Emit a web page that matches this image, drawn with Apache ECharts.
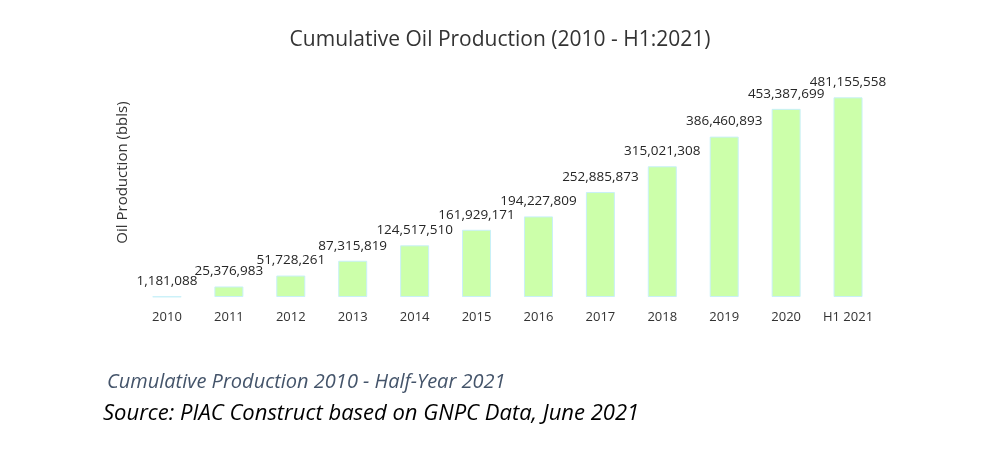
<!DOCTYPE html>
<html>
<head>
<meta charset="utf-8">
<script src="https://cdn.jsdelivr.net/npm/echarts@6/dist/echarts.min.js"></script>
<style>html,body{margin:0;padding:0;background:#fff;}#c{width:1000px;height:455px;}</style>
</head>
<body>
<div id="c"></div>
<script>
const categories = ['2010','2011','2012','2013','2014','2015','2016','2017','2018','2019','2020','H1 2021'];
const production = [1181088, 25376983, 51728261, 87315819, 124517510, 161929171, 194227809, 252885873, 315021308, 386460893, 453387699, 481155558];
const titleText = 'Cumulative Oil Production (2010 - H1:2021)';
const yAxisName = 'Oil Production (bbls)';
const subtitleText = 'Cumulative Production 2010 - Half-Year 2021';
const sourceText = 'Source: PIAC Construct based on GNPC Data, June 2021';

const fontFam = '"Open Sans", "Noto Sans", sans-serif';
const chart = echarts.init(document.getElementById('c'), null, {renderer: 'canvas'});
chart.setOption({
  animation: false,
  backgroundColor: '#ffffff',
  title: {
    text: titleText,
    left: 'center',
    top: 25,
    textStyle: {fontFamily: fontFam, fontSize: 21, fontWeight: 'normal', color: '#333333'}
  },
  grid: {left: 136, right: 121, top: 48, bottom: 158},
  xAxis: {
    type: 'category',
    data: categories,
    axisLine: {show: false},
    axisTick: {show: false},
    axisLabel: {interval: 0, fontFamily: fontFam, fontSize: 13, color: '#333333', margin: 14}
  },
  yAxis: {
    type: 'value',
    min: 0,
    max: 600000000,
    name: yAxisName,
    nameLocation: 'middle',
    nameGap: 6,
    nameTextStyle: {fontFamily: fontFam, fontSize: 15, color: '#333333'},
    axisLine: {show: false},
    axisTick: {show: false},
    axisLabel: {show: false},
    splitLine: {show: false}
  },
  series: [{
    type: 'bar',
    data: production,
    barWidth: 29,
    itemStyle: {color: '#ccffaa', borderColor: '#c8f0f8', borderWidth: 1},
    label: {
      show: true,
      position: 'top',
      distance: 8,
      fontFamily: fontFam,
      fontSize: 13.5,
      color: '#262626',
      formatter: p => p.value.toLocaleString('en-US')
    }
  }],
  graphic: [
    {type: 'text', left: 107, top: 372, style: {text: subtitleText, font: 'italic 20px ' + fontFam, fill: '#44546a'}},
    {type: 'text', left: 103, top: 403, style: {text: sourceText, font: 'italic 22px ' + fontFam, fill: '#000000'}}
  ]
});
</script>
</body>
</html>
